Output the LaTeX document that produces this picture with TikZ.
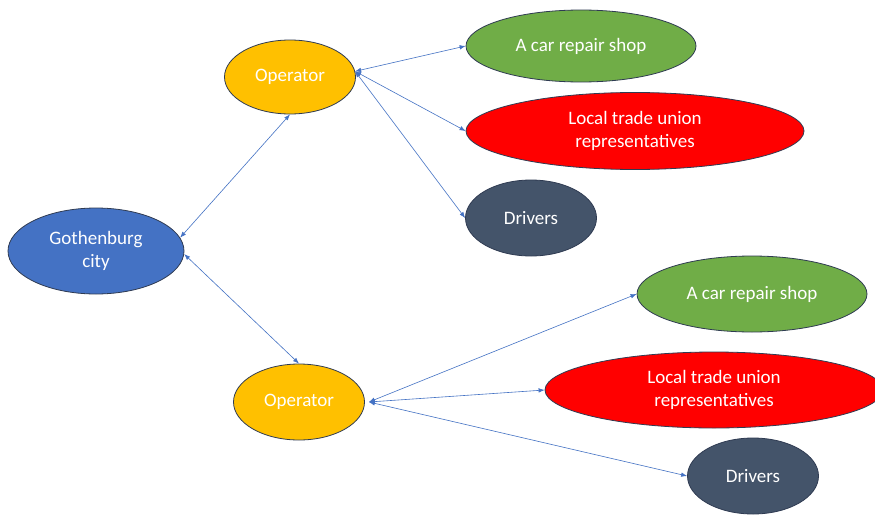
\documentclass[tikz,border=0pt]{standalone}
\usepackage{fontspec}
\setmainfont{Carlito}
\usetikzlibrary{shapes.geometric,arrows.meta}
\definecolor{cblue}{HTML}{4472C4}
\definecolor{cgold}{HTML}{FFC000}
\definecolor{cgreen}{HTML}{70AD47}
\definecolor{cred}{HTML}{FF0000}
\definecolor{cslate}{HTML}{44546A}
\definecolor{cline}{HTML}{4472C4}
\definecolor{cedge}{HTML}{2F3B52}
\tikzset{
  blob/.style={ellipse, draw=cedge, line width=0.8pt, inner sep=0pt, text=white, align=center,
    font=\fontsize{19}{23.5}\selectfont},
  link/.style={draw=cline, line width=0.6pt, {Latex[length=6pt,width=4.5pt]}-{Latex[length=6pt,width=4.5pt]}},
}
\begin{document}
\begin{tikzpicture}[x=1pt,y=-1pt]
\clip (0,0) rectangle (875,514);
\fill[white] (0,0) rectangle (875,514);
\node[blob, fill=cblue, minimum width=176pt, minimum height=86pt] (goth) at (96,251) {Gothenburg\\city};
\node[blob, fill=cgold, minimum width=131pt, minimum height=74pt] (op1) at (290,77) {Operator};
\node[blob, fill=cgold, minimum width=131pt, minimum height=76pt] (op2) at (299,402) {Operator};
\node[blob, fill=cgreen, minimum width=230pt, minimum height=72pt] (car1) at (581,46) {A car repair shop};
\node[blob, fill=cred, minimum width=338pt, minimum height=77pt] (red1) at (635,131) {Local trade union\\representatives};
\node[blob, fill=cslate, minimum width=131pt, minimum height=76pt] (drv1) at (531,218) {Drivers};
\node[blob, fill=cgreen, minimum width=230pt, minimum height=76pt] (car2) at (752,294) {A car repair shop};
\node[blob, fill=cred, minimum width=338pt, minimum height=76pt] (red2) at (714,390) {Local trade union\\representatives};
\node[blob, fill=cslate, minimum width=131pt, minimum height=76pt] (drv2) at (753,476) {Drivers};
\draw[link] (goth.9) -- (op1.south);
\draw[link] (goth.-2) -- (op2.north);
\draw[link] (op1.5) -- (car1.west);
\draw[link] (op1.5) -- (red1.west);
\draw[link] (op1.5) -- (drv1.west);
\draw[link] ([xshift=4pt]op2.east) -- (car2.west);
\draw[link] ([xshift=4pt]op2.east) -- (red2.west);
\draw[link] ([xshift=4pt]op2.east) -- (drv2.west);
\end{tikzpicture}
\end{document}
